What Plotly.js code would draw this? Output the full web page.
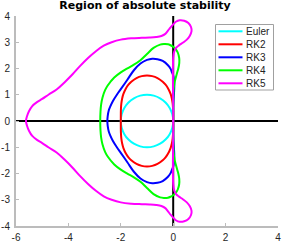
<!DOCTYPE html>
<html>
<head>
<meta charset="utf-8">
<script src="https://cdn.plot.ly/plotly-3.0.1.min.js"></script>
<style>html,body{margin:0;padding:0;background:#fff;}#chart{width:283px;height:243px;}</style>
</head>
<body>
<div id="chart"></div>
<script>
// ---- data ----
var seriesNames = ['Euler', 'RK2', 'RK3', 'RK4', 'RK5'];
var seriesColors = ['#00ffff', '#ff0000', '#0000ff', '#00ff00', '#ff00ff'];

var eulerX = [0,-0.034,-0.134,-0.293,-0.5,-0.741,-1,-1.259,-1.5,-1.707,-1.866,-1.966,-2,-1.966,-1.866,-1.707,-1.5,-1.259,-1,-0.741,-0.5,-0.293,-0.134,-0.034,0];
var eulerY = [0,0.259,0.5,0.707,0.866,0.966,1,0.966,0.866,0.707,0.5,0.259,0,-0.259,-0.5,-0.707,-0.866,-0.966,-1,-0.966,-0.866,-0.707,-0.5,-0.259,0];

var rk2X = [0,-0.001,-0.005,-0.02,-0.05,-0.1,-0.2,-0.3,-0.4,-0.6,-0.8,-1,-1.2,-1.4,-1.6,-1.7,-1.8,-1.9,-1.95,-1.98,-1.995,-1.999,-2,
            -1.999,-1.995,-1.98,-1.95,-1.9,-1.8,-1.7,-1.6,-1.4,-1.2,-1,-0.8,-0.6,-0.4,-0.3,-0.2,-0.1,-0.05,-0.02,-0.005,-0.001,0];
var rk2Y = [0,0.302,0.458,0.662,0.85,1.03,1.249,1.392,1.497,1.635,1.709,1.732,1.709,1.635,1.497,1.392,1.249,1.03,0.85,0.662,0.458,0.302,0,
            -0.302,-0.458,-0.662,-0.85,-1.03,-1.249,-1.392,-1.497,-1.635,-1.709,-1.732,-1.709,-1.635,-1.497,-1.392,-1.249,-1.03,-0.85,-0.662,-0.458,-0.302,0];

var rk3X = [0,0.002,0.012,0.026,0.038,0.042,0.037,0.026,0,-0.05,-0.1,-0.2,-0.4,-0.6,-0.8,-1,-1.25,-1.5,-1.75,-2,-2.15,-2.3,-2.4,-2.46,-2.5,-2.513,
            -2.5,-2.46,-2.4,-2.3,-2.15,-2,-1.75,-1.5,-1.25,-1,-0.8,-0.6,-0.4,-0.2,-0.1,-0.05,0,0.026,0.037,0.042,0.038,0.026,0.012,0.002,0];
var rk3Y = [0,0.5,0.8,1,1.2,1.4,1.5,1.6,1.732,1.86,1.985,2.123,2.286,2.356,2.372,2.326,2.188,1.933,1.571,1.212,1,0.762,0.555,0.4,0.19,0,
            -0.19,-0.4,-0.555,-0.762,-1,-1.212,-1.571,-1.933,-2.188,-2.326,-2.372,-2.356,-2.286,-2.123,-1.985,-1.86,-1.732,-1.6,-1.5,-1.4,-1.2,-1,-0.8,-0.5,0];

var rk4X = [0,0.001,0.006,0.022,0.06,0.139,0.195,0.231,0.229,0.178,0.122,0.034,0,-0.1,-0.2,-0.35,-0.5,-0.75,-1,-1.25,-1.5,-1.75,-2,-2.25,-2.5,-2.6,-2.7,-2.75,-2.775,-2.785,
            -2.775,-2.75,-2.7,-2.6,-2.5,-2.25,-2,-1.75,-1.5,-1.25,-1,-0.75,-0.5,-0.35,-0.2,-0.1,0,0.034,0.122,0.178,0.229,0.231,0.195,0.139,0.06,0.022,0.006,0.001,0];
var rk4Y = [0,0.6,1,1.25,1.5,1.8,2,2.2,2.4,2.6,2.7,2.8,2.828,2.885,2.922,2.93,2.91,2.785,2.553,2.316,2.145,2.007,1.854,1.657,1.353,1.174,0.888,0.634,0.35,0,
            -0.35,-0.634,-0.888,-1.174,-1.353,-1.657,-1.854,-2.007,-2.145,-2.316,-2.553,-2.785,-2.91,-2.93,-2.922,-2.885,-2.828,-2.8,-2.7,-2.6,-2.4,-2.2,-2,-1.8,-1.5,-1.25,-1,-0.6,0];

var rk5X = [0,0,-0.005,-0.01,-0.01,0,0.04,0.12,0.22,0.38,0.52,0.63,0.7,0.68,0.58,0.42,0.25,0.1,0,-0.1,-0.2,-0.3,-0.45,-0.65,-0.9,-1.2,-1.6,-2,-2.35,-2.65,-2.95,-3.25,-3.55,-3.85,-4.15,-4.45,-4.75,-5,-5.2,-5.38,-5.5,-5.58,-5.62,
            -5.58,-5.5,-5.38,-5.2,-5,-4.75,-4.45,-4.15,-3.85,-3.55,-3.25,-2.95,-2.65,-2.35,-2,-1.6,-1.2,-0.9,-0.65,-0.45,-0.3,-0.2,-0.1,0,0.1,0.25,0.42,0.58,0.68,0.7,0.63,0.52,0.38,0.22,0.12,0.04,0,-0.01,-0.01,-0.005,0,0];
var rk5Y = [0,0.5,1,1.5,2,2.4,2.65,2.8,2.88,2.99,3.1,3.24,3.42,3.58,3.73,3.82,3.84,3.78,3.68,3.57,3.44,3.32,3.24,3.2,3.18,3.17,3.15,3.1,3,2.87,2.66,2.4,2.1,1.77,1.47,1.2,1.01,0.84,0.72,0.57,0.38,0.18,0,
            -0.18,-0.38,-0.57,-0.72,-0.84,-1.01,-1.2,-1.47,-1.77,-2.1,-2.4,-2.66,-2.87,-3,-3.1,-3.15,-3.17,-3.18,-3.2,-3.24,-3.32,-3.44,-3.57,-3.68,-3.78,-3.84,-3.82,-3.73,-3.58,-3.42,-3.24,-3.1,-2.99,-2.88,-2.8,-2.65,-2.4,-2,-1.5,-1,-0.5,0];

var realAxisX = [-6, 4], realAxisY = [0, 0];
var imagAxisX = [0, 0], imagAxisY = [-4, 4];

var xTickVals = [-6, -4, -2, 0, 2, 4];
var xTickText = ['-6', '-4', '-2', '0', '2', '4'];
var yTickVals = [-4, -3, -2, -1, 0, 1, 2, 3, 4];
var yTickText = ['-4', '-3', '-2', '-1', '0', '1', '2', '3', '4'];
var titleText = 'Region of absolute stability';

// ---- figure ----
var W = 283, H = 243;
var M = {l: 16, r: 5, t: 16, b: 17};
var PW = W - M.l - M.r, PH = H - M.t - M.b;
function pxX(p) { return (p - M.l) / PW; }
function pxY(p) { return 1 - (p - M.t) / PH; }

var curveX = [eulerX, rk2X, rk3X, rk4X, rk5X];
var curveY = [eulerY, rk2Y, rk3Y, rk4Y, rk5Y];

var traces = [
  {x: realAxisX, y: realAxisY, mode: 'lines', line: {color: '#000', width: 2}, hoverinfo: 'skip', showlegend: false},
  {x: imagAxisX, y: imagAxisY, mode: 'lines', line: {color: '#000', width: 2}, hoverinfo: 'skip', showlegend: false}
];
for (var i = 0; i < seriesNames.length; i++) {
  traces.push({
    x: curveX[i], y: curveY[i], name: seriesNames[i], mode: 'lines',
    line: {color: seriesColors[i], width: 2, shape: 'spline', smoothing: 1},
    showlegend: false
  });
}

var font = 'Liberation Sans, Arial, sans-serif';
var shapes = [{
  type: 'rect', xref: 'paper', yref: 'paper',
  x0: pxX(215.5), x1: pxX(273.5), y0: pxY(90), y1: pxY(24.5),
  line: {color: '#a0a0a0', width: 1}, fillcolor: '#ffffff', layer: 'above'
}];
var annotations = [];
for (var k = 0; k < seriesNames.length; k++) {
  var row = 31.3 + 13 * k;
  shapes.push({type: 'line', xref: 'paper', yref: 'paper',
    x0: pxX(218.5), x1: pxX(242.5), y0: pxY(row), y1: pxY(row),
    line: {color: seriesColors[k], width: 2}, layer: 'above'});
  annotations.push({xref: 'paper', yref: 'paper', x: pxX(244), y: pxY(row),
    xanchor: 'left', yanchor: 'middle', showarrow: false, text: seriesNames[k],
    font: {family: font, size: 10, color: '#222'}});
}

var axisCommon = {
  showgrid: false, zeroline: false, showline: true, linecolor: '#bcbcbc', linewidth: 2,
  ticks: 'inside', ticklen: 3, tickwidth: 1, tickcolor: '#bcbcbc',
  tickfont: {family: font, size: 10, color: '#262626'}, fixedrange: true, mirror: false
};

var layout = {
  width: W, height: H,
  margin: {l: M.l, r: M.r, t: M.t, b: M.b, pad: 0},
  paper_bgcolor: '#fff', plot_bgcolor: '#fff',
  showlegend: false,
  title: {text: titleText, x: pxX(145), xref: 'paper', xanchor: 'center',
          y: 1 - 1.5 / H, yref: 'container', yanchor: 'top',
          font: {family: 'DejaVu Sans', size: 11, weight: 'bold', color: '#000'}},
  xaxis: Object.assign({}, axisCommon, {range: [-6, 4], tickmode: 'array', tickvals: xTickVals, ticktext: xTickText, ticklabelstandoff: 1}),
  yaxis: Object.assign({}, axisCommon, {range: [-4, 4], tickmode: 'array', tickvals: yTickVals, ticktext: yTickText, ticklabelstandoff: 2}),
  shapes: shapes,
  annotations: annotations
};

Plotly.newPlot('chart', traces, layout, {displayModeBar: false, staticPlot: true});
</script>
</body>
</html>
